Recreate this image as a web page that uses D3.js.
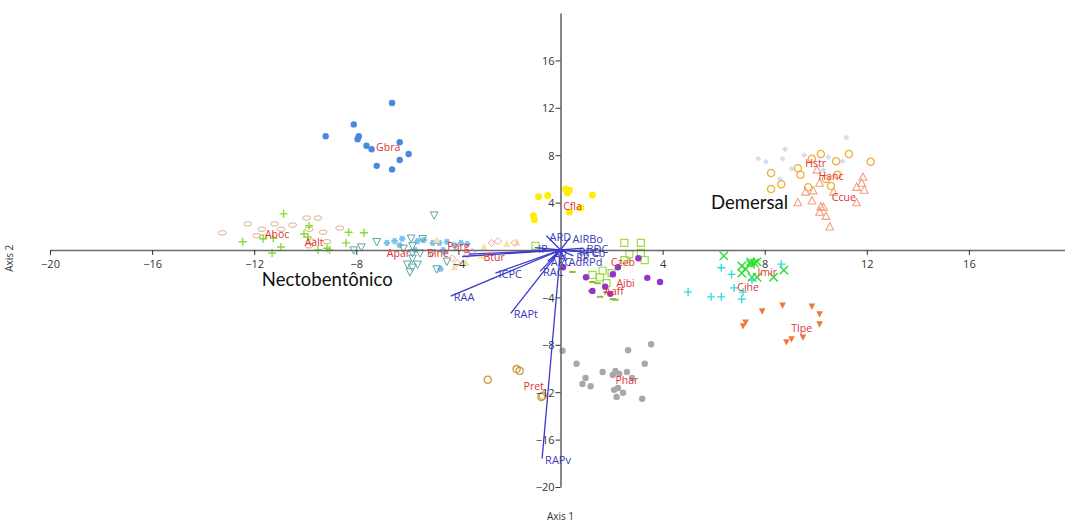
<!DOCTYPE html>
<html>
<head>
<meta charset="utf-8">
<script src="https://cdn.jsdelivr.net/npm/d3@7/dist/d3.min.js"></script>
<style>
  html, body { margin: 0; padding: 0; background: #fff; }
  svg { display: block; font-family: "Open Sans", "DejaVu Sans", sans-serif; }
</style>
</head>
<body>
<svg id="chart" width="1065" height="523"></svg>
<script>
// Ordination scores of the samples, grouped by species (Axis 1, Axis 2)
const Gbra = [[-6.6,12.4],[-8.1,10.6],[-9.2,9.6],[-7.9,9.6],[-7.95,9.35],[-7.6,8.8],[-7.4,8.5],[-6.3,9.1],[-5.95,8.1],[-6.3,7.6],[-7.2,7.1],[-6.6,6.8]];
const Cfla = [[-0.86,4.5],[-0.5,4.6],[0.2,5.15],[0.35,5.05],[0.27,4.8],[1.25,4.65],[0.78,3.55],[0.35,3.2],[-1.06,2.9],[-1.02,2.55]];
const Hstr = [[11.2,9.5],[8.8,8.5],[7.75,7.7],[8.05,7.45],[8.7,7.7],[9.55,8.0],[10.5,7.85],[11.05,7.5],[9.05,6.85],[10.3,6.75],[8.6,6.0]];
const Hanc = [[10.2,8.1],[11.3,8.1],[12.15,7.45],[10.8,7.5],[9.85,7.7],[9.3,6.9],[9.4,6.35],[8.25,6.5],[8.65,5.55],[8.25,5.15],[9.7,5.3],[10.6,5.4],[10.4,6.0],[10.85,6.35]];
const Ccue = [[10.05,6.75],[11.85,6.15],[11.8,5.65],[11.6,5.3],[11.9,5.05],[10.15,5.65],[9.9,5.0],[9.6,4.9],[10.7,4.9],[11.6,4.0],[9.85,4.15],[9.3,4.0],[10.2,3.65],[10.3,3.6],[10.15,3.2],[10.4,2.85],[10.55,1.95]];
const Imir = [[6.4,-0.5],[7.1,-1.35],[7.1,-1.95],[7.25,-1.6],[7.45,-1.0],[7.6,-1.1],[7.7,-1.0],[7.5,-2.3],[7.7,-2.3],[8.35,-2.3],[8.75,-1.7],[7.45,-1.2]];
const Cihe = [[6.3,-1.5],[6.7,-2.05],[8.65,-1.2],[5.0,-3.55],[5.9,-3.95],[6.3,-3.95],[6.8,-3.2],[7.15,-3.55],[7.1,-4.15],[7.5,-2.55]];
const Tlpe = [[7.9,-5.15],[8.7,-4.65],[9.85,-4.75],[10.15,-5.4],[10.15,-6.25],[7.25,-6.1],[7.15,-6.4],[9.5,-7.35],[9.05,-7.5],[8.85,-7.75]];
const Phar = [[0.08,-8.5],[0.63,-9.6],[0.98,-10.8],[0.86,-11.3],[1.18,-11.5],[1.65,-10.3],[2.05,-10.55],[2.15,-10.2],[2.3,-10.45],[2.6,-10.3],[2.8,-10.8],[2.65,-8.45],[3.55,-7.95],[3.3,-9.6],[2.1,-11.8],[2.25,-11.65],[2.45,-12.05],[2.2,-12.4],[3.2,-12.55]];
const Pret = [[-2.85,-10.95],[-1.72,-10.05],[-1.6,-10.2],[-0.75,-12.4],[-0.7,-12.3]];
const Czeb = [[-0.98,0.35],[2.5,0.6],[3.15,0.6],[2.7,-0.35],[3.15,-0.25],[3.3,-0.85],[2.5,-0.85],[1.65,-1.75],[2.0,-1.95],[1.25,-2.1],[1.55,-2.3],[1.8,-2.8]];
const Aibi = [[3.05,-0.7],[2.25,-1.45],[2.05,-2.05],[1.0,-2.3],[1.75,-3.1],[3.4,-2.35],[3.9,-2.7],[1.25,-3.45],[1.95,-3.7],[0.1,-1.45]];
const Aaff = [[0.47,-1.85],[1.25,-2.7],[1.45,-2.8],[1.2,-3.45],[1.55,-3.95],[2.05,-4.15],[2.15,-4.2],[1.8,-3.55]];
const Aboc = [[-13.25,1.45],[-12.25,2.2],[-11.7,1.75],[-11.2,2.2],[-10.95,1.75],[-10.5,2.1],[-9.95,2.7],[-9.5,2.7],[-11.9,1.2],[-11.65,1.1],[-9.85,1.75],[-9.3,1.5],[-8.65,1.85],[-9.15,0.7],[-9.85,0.35],[-9.75,0.75]];
const Aalt = [[-10.85,3.05],[-12.45,0.7],[-11.65,0.95],[-11.25,1.0],[-11.3,-0.25],[-10.95,0.25],[-9.85,2.05],[-10.05,1.35],[-9.9,1.1],[-8.3,1.5],[-7.7,1.45],[-8.4,0.6],[-9.5,0.0],[-9.15,0.15],[-9.05,0.0]];
const Apar = [[-4.95,2.95],[-7.8,0.25],[-7.2,0.7],[-8.1,0.0],[-5.85,1.0],[-5.4,0.95],[-5.8,0.35],[-6.15,0.15],[-5.8,-0.25],[-5.5,-0.25],[-5.05,-0.25],[-5.8,-0.7],[-6.0,-1.2],[-5.6,-1.2],[-5.8,-1.45],[-5.9,-1.85],[-4.85,-1.6],[-4.45,-0.95]];
const Bine = [[-6.8,0.6],[-6.5,0.75],[-6.2,0.95],[-6.3,0.4],[-5.6,0.75],[-5.35,0.85],[-5.0,0.6],[-4.75,0.6],[-4.45,0.7],[-4.15,0.4],[-3.9,0.6],[-3.65,0.5],[-5.7,0.0],[-4.6,0.0],[-4.55,-0.15],[-4.7,-1.6]];
const Parg = [[-4.85,0.85],[-3.0,0.25],[-3.1,-0.5],[-3.7,-1.1],[-4.15,-1.45],[-2.1,0.5],[-1.7,0.6]];
const Btur = [[-2.7,0.6],[-2.45,0.75],[-1.8,0.6],[-3.45,-0.15],[-4.25,-0.7],[-4.05,-1.1],[-3.65,-0.4]];

// Species centroids (labels)
const speciesNames = ["Gbra","Cfla","Hstr","Hanc","Ccue","Imir","Cihe","Tlpe","Phar","Pret","Czeb","Aibi","Aaff","Aboc","Aalt","Apar","Bine","Parg","Btur"];
const speciesCentroids = [[-6.75,8.7],[0.47,3.7],[10.0,7.35],[10.6,6.25],[11.1,4.45],[8.1,-1.85],[7.35,-3.1],[9.45,-6.6],[2.6,-10.95],[-1.05,-11.5],[2.45,-1.0],[2.55,-2.8],[2.1,-3.45],[-11.1,1.35],[-9.65,0.7],[-6.35,-0.25],[-4.8,-0.25],[-4.0,0.35],[-2.6,-0.6]];

// Environmental vectors (biplot arrows from the origin)
const vectorNames = ["RAPv","RAPt","RAA","ICPC","","","RAC","IP","ARD","AIRBo","Cb","RPC","BDC","ARC","AdRPd","AR","RP"];
const vectorEnds = [[-0.72,-17.6],[-1.95,-5.35],[-4.3,-3.9],[-2.55,-1.95],[-3.85,-0.55],[-3.6,-0.35],[-0.8,-1.8],[-1.0,0.2],[-0.55,1.2],[0.35,1.0],[1.1,-0.2],[0.6,-0.1],[0.9,0.15],[-0.5,-0.95],[0.2,-0.95],[-0.4,-0.35],[0.5,-0.5]];

// Axis ticks
const xTicks = [-20,-16,-12,-8,-4,4,8,12,16];
const yTicks = [16,12,8,4,-4,-8,-12,-16,-20];

const svg = d3.select("#chart");
const x = d3.scaleLinear().domain([-20, 20]).range([50, 1071]);
const y = d3.scaleLinear().domain([-20, 20]).range([487, 13]);

// Marker shapes drawn around (0,0)
const shapes = {
  circle: r => d3.symbol(d3.symbolCircle, Math.PI * r * r)(),
  triUp: s => `M0,${-s*0.6}L${s*0.55},${s*0.45}L${-s*0.55},${s*0.45}Z`,
  triDown: s => `M0,${s*0.6}L${s*0.55},${-s*0.45}L${-s*0.55},${-s*0.45}Z`,
  diamond: s => `M0,${-s/2}L${s/2},0L0,${s/2}L${-s/2},0Z`,
  square: s => `M${-s/2},${-s/2}h${s}v${s}h${-s}Z`,
  plus: s => `M${-s},0H${s}M0,${-s}V${s}`,
  cross: s => `M${-s},${-s}L${s},${s}M${-s},${s}L${s},${-s}`,
  dash: s => `M${-s},-1h${2*s}v2h${-2*s}Z`,
  oval: s => `M${-s},0a${s},${s*0.55} 0 1,0 ${2*s},0a${s},${s*0.55} 0 1,0 ${-2*s},0Z`,
  star: s => `M${-s},0H${s}M${-s*0.5},${-s*0.87}L${s*0.5},${s*0.87}M${-s*0.5},${s*0.87}L${s*0.5},${-s*0.87}`
};

const groups = [
  {pts: Bine, shape: "star", size: 3.2, fill: "none", stroke: "#7cc0ee", sw: 2},
  {pts: Apar, shape: "triDown", size: 7, fill: "none", stroke: "#5aa6a6", sw: 1},
  {pts: Aboc, shape: "oval", size: 4, fill: "none", stroke: "#dcb08e", sw: 1},
  {pts: Aalt, shape: "plus", size: 4, fill: "none", stroke: "#86dc34", sw: 1.4},
  {pts: Parg, shape: "triUp", size: 6, fill: "#f8e3a6", stroke: "#f8e3a6", sw: 0.5},
  {pts: Btur, shape: "diamond", size: 7, fill: "none", stroke: "#f2a4a4", sw: 1},
  {pts: Gbra, shape: "circle", size: 3.2, fill: "#4a88e0", stroke: "none", sw: 0},
  {pts: Cfla, shape: "circle", size: 3.5, fill: "#ffee00", stroke: "none", sw: 0},
  {pts: Hstr, shape: "diamond", size: 6, fill: "#dadaf4", stroke: "none", sw: 0},
  {pts: Hanc, shape: "circle", size: 3.6, fill: "none", stroke: "#f0b038", sw: 1.3},
  {pts: Ccue, shape: "triUp", size: 7, fill: "none", stroke: "#f2a084", sw: 1.1},
  {pts: Imir, shape: "cross", size: 4.2, fill: "none", stroke: "#30dc30", sw: 1.4},
  {pts: Cihe, shape: "plus", size: 4, fill: "none", stroke: "#30dada", sw: 1.3},
  {pts: Tlpe, shape: "triDown", size: 6, fill: "#f07838", stroke: "none", sw: 0},
  {pts: Phar, shape: "circle", size: 3.2, fill: "#a8a8a8", stroke: "none", sw: 0},
  {pts: Pret, shape: "circle", size: 3.6, fill: "none", stroke: "#c89c3c", sw: 1.3},
  {pts: Czeb, shape: "square", size: 7, fill: "none", stroke: "#9ade46", sw: 1.2},
  {pts: Aaff, shape: "dash", size: 3.2, fill: "#8cba34", stroke: "none", sw: 0},
  {pts: Aibi, shape: "circle", size: 3.2, fill: "#9434cc", stroke: "none", sw: 0}
];

const marks = svg.append("g");
groups.forEach(g => {
  marks.append("g").selectAll("path").data(g.pts).join("path")
    .attr("transform", d => `translate(${x(d[0])},${y(d[1])})`)
    .attr("d", shapes[g.shape](g.size))
    .attr("fill", g.fill)
    .attr("stroke", g.stroke)
    .attr("stroke-width", g.sw);
});

// Axes through the origin
const axisColor = "#6a6a6a";
const xAxis = svg.append("g").attr("transform", `translate(0,${y(0)})`)
  .call(d3.axisBottom(x).tickValues(xTicks).tickSize(5).tickSizeOuter(0).tickFormat(d3.format("d")));
const yAxis = svg.append("g").attr("transform", `translate(${x(0)},0)`)
  .call(d3.axisLeft(y).tickValues(yTicks).tickSize(5).tickSizeOuter(0).tickFormat(d3.format("d")));
[xAxis, yAxis].forEach(a => {
  a.select(".domain").attr("stroke", axisColor).attr("stroke-width", 1.6);
  a.selectAll(".tick line").attr("stroke", "#333").attr("stroke-width", 1);
  a.selectAll(".tick text").attr("fill", "#333").attr("font-size", 11)
    .attr("font-family", "'Open Sans', sans-serif");
});
xAxis.selectAll(".tick text").attr("dy", "0.9em");
yAxis.selectAll(".tick text").attr("dy", "0.35em").attr("x", -6);

// Vectors
const vec = svg.append("g");
vec.selectAll("line").data(vectorEnds).join("line")
  .attr("x1", x(0)).attr("y1", y(0))
  .attr("x2", d => x(d[0])).attr("y2", d => y(d[1]))
  .attr("stroke", "#3a3ad0").attr("stroke-width", 1.3);
vec.selectAll("text").data(vectorEnds).join("text")
  .attr("x", d => x(d[0]) + 3).attr("y", d => y(d[1]) + 5)
  .attr("fill", "#3a3ab8").attr("font-size", 11)
  .text((d, i) => vectorNames[i]);

// Species labels
svg.append("g").selectAll("text").data(speciesCentroids).join("text")
  .attr("x", d => x(d[0])).attr("y", d => y(d[1]) + 4)
  .attr("text-anchor", "middle")
  .attr("fill", "#e03434").attr("font-size", 10.5)
  .text((d, i) => speciesNames[i]);

// Habitat annotations
svg.append("text").attr("x", x(-11.7)).attr("y", y(-2.5) + 6)
  .attr("font-size", 18.5).attr("fill", "#111").attr("font-family", "Lato, 'Open Sans', sans-serif")
  .text("Nectobentônico");
svg.append("text").attr("x", x(5.9)).attr("y", y(4.0) + 6)
  .attr("font-size", 18.5).attr("fill", "#111").attr("font-family", "Lato, 'Open Sans', sans-serif")
  .text("Demersal");

// Axis titles
svg.append("text").attr("x", x(0)).attr("y", 520).attr("text-anchor", "middle")
  .attr("font-size", 10).attr("fill", "#333").text("Axis 1");
svg.append("text").attr("transform", `translate(13,${y(-0.7)}) rotate(-90)`)
  .attr("text-anchor", "middle").attr("font-size", 10).attr("fill", "#333").text("Axis 2");
</script>
</body>
</html>
